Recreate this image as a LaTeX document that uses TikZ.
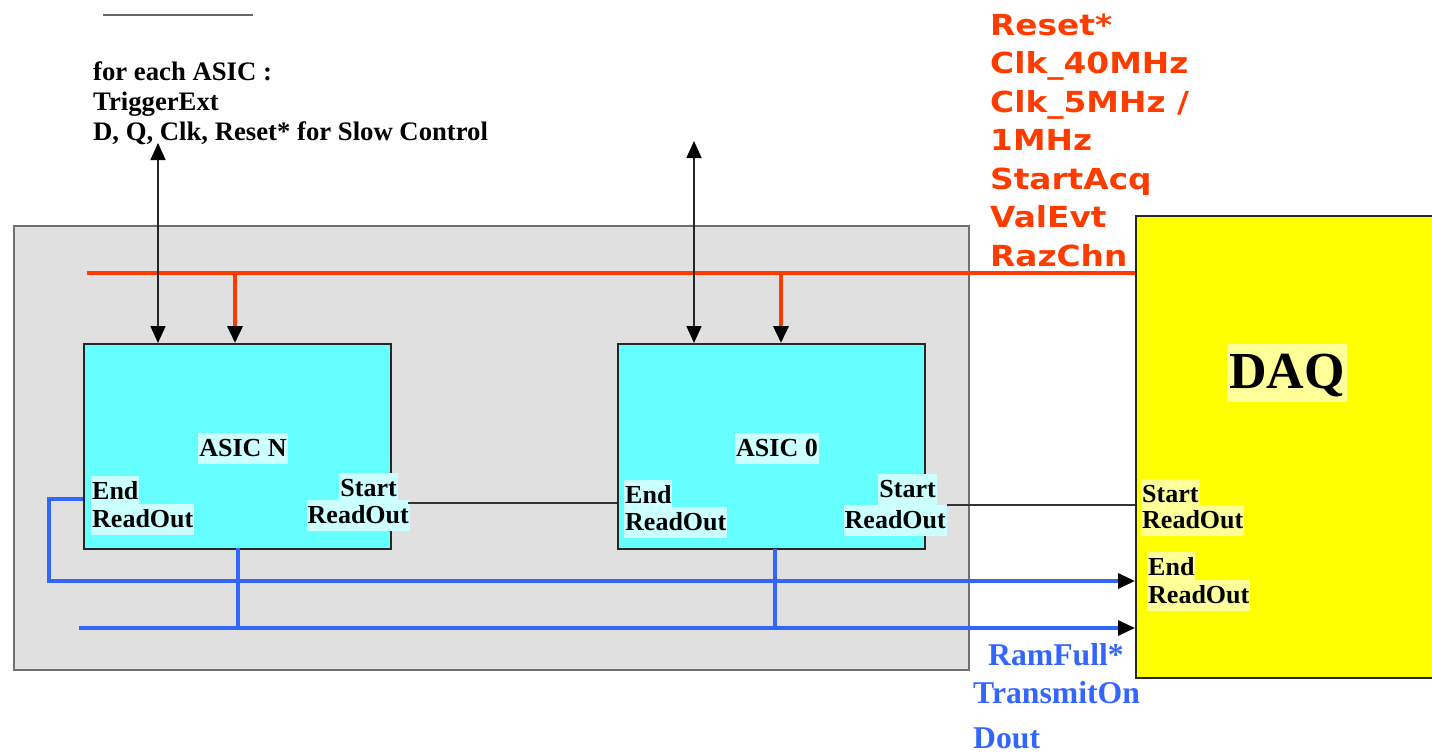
\documentclass[tikz,border=0pt]{standalone}
\usepackage{fontspec}
\setmainfont{Liberation Serif}
\newfontfamily\redfont{DejaVu Sans}
\usetikzlibrary{arrows.meta}
\definecolor{boxgray}{HTML}{E0E0E0}
\definecolor{asiccyan}{HTML}{66FFFF}
\definecolor{hlcyan}{HTML}{CCFFFF}
\definecolor{daqyellow}{HTML}{FFFF00}
\definecolor{hlyellow}{HTML}{FFFF99}
\definecolor{sigred}{RGB}{255,60,0}
\definecolor{sigblue}{HTML}{3366FF}
\definecolor{edgegray}{HTML}{707070}
\tikzset{
  tip/.style={-{Triangle[length=17pt,width=15pt,black]}},
  biarrow/.style={{Triangle[length=17pt,width=15pt,black]}-{Triangle[length=17pt,width=15pt,black]}, line width=1.5pt, draw=black!85},
  redline/.style={draw=sigred, line width=3.6pt},
  blueline/.style={draw=sigblue, line width=3.2pt},
  blackline/.style={draw=black!80, line width=1.4pt},
  asicbox/.style={draw=black!85, line width=1.7pt, fill=asiccyan, anchor=north west, inner sep=0pt, minimum width=307pt, minimum height=205pt},
  lbl/.style={font=\fontsize{26}{29}\selectfont\bfseries, inner xsep=1pt, inner ysep=2pt, text height=21pt, text depth=6pt},
  cylbl/.style={lbl, fill=hlcyan},
  yllbl/.style={lbl, fill=hlyellow},
  blk/.style={font=\fontsize{26.7}{29}\selectfont\bfseries, inner sep=0pt, anchor=base west},
  redtxt/.style={font=\redfont\bfseries\fontsize{29}{38}\selectfont, text=sigred, inner sep=0pt, anchor=base west},
  bluetxt/.style={font=\fontsize{31.7}{40}\selectfont\bfseries, text=sigblue, inner sep=0pt, anchor=base west},
}
\begin{document}
\begin{tikzpicture}[x=1pt,y=-1pt]
\useasboundingbox (0,0) rectangle (1432,753);
% top short line
\coordinate (tl1) at (103,15);
\coordinate (tl2) at (253,15);
\draw[draw=black!60, line width=1.4pt] (tl1) -- (tl2);
% gray container
\node[draw=edgegray, line width=1.7pt, fill=boxgray, anchor=north west, inner sep=0pt, minimum width=955pt, minimum height=444pt] (cont) at (13,225) {};
% DAQ
\node[draw=black!85, line width=1.7pt, fill=daqyellow, anchor=north west, inner sep=0pt, minimum width=300pt, minimum height=462pt] (daq) at (1135,215) {};
% ASIC boxes
\node[asicbox] (an) at (83,343) {};
\node[asicbox] (a0) at (617,343) {};
% red bus
\coordinate (rs) at (87,273);
\coordinate (rbn) at (235,273);
\coordinate (rb0) at (781,273);
\draw[redline] (rs) -- (rs -| daq.west);
\draw[redline, tip] (rbn) -- (rbn |- an.north);
\draw[redline, tip] (rb0) -- (rb0 |- a0.north);
% bidirectional arrows
\coordinate (tn) at (158,143);
\coordinate (t0) at (694,141);
\draw[biarrow] (tn) -- (tn |- an.north);
\draw[biarrow] (t0) -- (t0 |- a0.north);
% labels inside ASIC N
\node[cylbl, anchor=base] (lan) at (243,456) {ASIC N};
\node[cylbl, anchor=base west] (anE1) at (91,499) {End};
\node[cylbl, anchor=base west] (anE2) at (91,527) {ReadOut};
\node[cylbl, anchor=base east] (anS1) at (398,496) {Start};
\node[cylbl, anchor=base east] (anS2) at (410,523) {ReadOut};
% labels inside ASIC 0
\node[cylbl, anchor=base] (la0) at (777,456) {ASIC 0};
\node[cylbl, anchor=base west] (a0E1) at (624,503) {End};
\node[cylbl, anchor=base west] (a0E2) at (624,530) {ReadOut};
\node[cylbl, anchor=base east] (a0S1) at (937,497) {Start};
\node[cylbl, anchor=base east] (a0S2) at (947,528) {ReadOut};
% labels inside DAQ
\node[yllbl, font=\fontsize{52}{56}\selectfont\bfseries, text height=42pt, text depth=12pt, inner xsep=2pt] (daqlbl) at (1287,373) {DAQ};
\node[yllbl, anchor=base west] (dS1) at (1141,502) {Start};
\node[yllbl, anchor=base west] (dS2) at (1141,528) {ReadOut};
\node[yllbl, anchor=base west] (dE1) at (1147,575) {End};
\node[yllbl, anchor=base west] (dE2) at (1147,603) {ReadOut};
% start readout chain
\coordinate (c1) at (408,503);
\coordinate (c2) at (947,505);
\draw[blackline] (c1) -- (c1 -| a0.west);
\draw[blackline] (c2) -- (c2 -| daq.west);
% blue lines
\coordinate (bE) at (83,499);
\coordinate (bEl) at (49,499);
\coordinate (bEb) at (49,581);
\draw[blueline, tip] (bE) -- (bEl) -- (bEb) -- (bEb -| daq.west);
\coordinate (bb) at (79,628);
\draw[blueline, tip] (bb) -- (bb -| daq.west);
\coordinate (vn) at (238,548);
\coordinate (v0) at (775,549);
\draw[blueline] (vn) -- (vn |- bb);
\draw[blueline] (v0) -- (v0 |- bb);
% top-left black text
\node[blk] (t1) at (93,80) {for each ASIC :};
\node[blk] (t2) at (93,110) {TriggerExt};
\node[blk] (t3) at (93,140) {D, Q, Clk, Reset* for Slow Control};
% red text
\foreach \t [count=\i from 0] in {Reset*,Clk\_40MHz,Clk\_5MHz /,1MHz,StartAcq,ValEvt,RazChn}
  \node[redtxt] (r\i) at (990,{35+38.5*\i}) {\scalebox{1.13}[1]{\t}};
% blue text
\node[bluetxt] (b1) at (988,665) {RamFull*};
\node[bluetxt] (b2) at (973,703) {TransmitOn};
\node[bluetxt] (b3) at (973,748) {Dout};
\end{tikzpicture}
\end{document}
